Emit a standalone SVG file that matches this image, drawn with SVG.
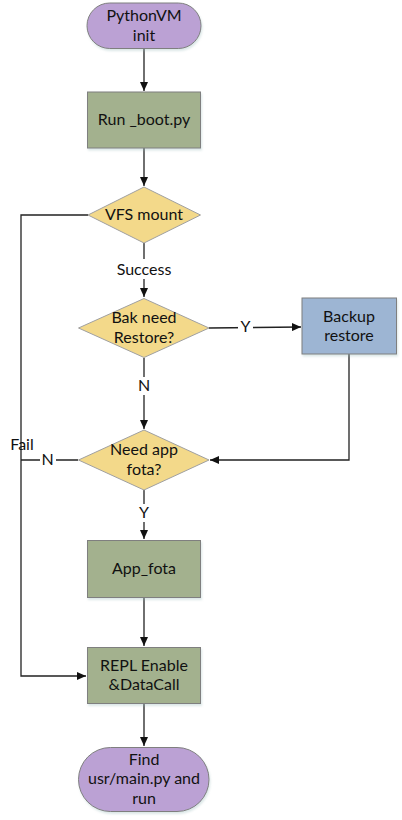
<svg xmlns="http://www.w3.org/2000/svg" width="402" height="820" viewBox="0 0 402 820">
<style>
text{font-family:Lato,"Noto Sans","Liberation Sans",sans-serif;font-size:16px;fill:#111;text-anchor:middle}
.term{fill:#BBA1D4;stroke:#7f7f7f;stroke-width:1}
.proc{fill:#A3B18E;stroke:#7f7f7f;stroke-width:1}
.dec{fill:#F3D98A;stroke:#a0a0a0;stroke-width:1}
.blue{fill:#9DB5D3;stroke:#7f7f7f;stroke-width:1}
.c{fill:none;stroke:#222;stroke-width:1.3}
.lbl{fill:#fff;stroke:none}
</style>
<defs>
<marker id="ah" markerWidth="10" markerHeight="8" refX="9" refY="4" orient="auto" markerUnits="userSpaceOnUse">
<path d="M0,0 L9,4 L0,8 Z" fill="#111"/>
</marker>
<filter id="sh" x="-10%" y="-10%" width="130%" height="140%">
<feDropShadow dx="1" dy="2" stdDeviation="1.2" flood-color="#9bb" flood-opacity="0.35"/>
</filter>
</defs>
<g id="connectors">
<path class="c" d="M144,49 V91" marker-end="url(#ah)"/>
<path class="c" d="M144,148 V186" marker-end="url(#ah)"/>
<path class="c" d="M144,243 V297" marker-end="url(#ah)"/>
<path class="c" d="M209,328 L301,327" marker-end="url(#ah)"/>
<path class="c" d="M144,358 V429" marker-end="url(#ah)"/>
<path class="c" d="M349,354 V460 H210" marker-end="url(#ah)"/>
<path class="c" d="M144,490 V539" marker-end="url(#ah)"/>
<path class="c" d="M144,597 V646" marker-end="url(#ah)"/>
<path class="c" d="M144,704 V746" marker-end="url(#ah)"/>
<path class="c" d="M88,215 H21 V676 H86" marker-end="url(#ah)"/>
<path class="c" d="M78,460 H21"/>
<rect class="lbl" x="112" y="259" width="64" height="20"/>
<text x="144" y="275">Success</text>
<rect class="lbl" x="238" y="318" width="15" height="18"/>
<text x="245.5" y="332">Y</text>
<rect class="lbl" x="137" y="377" width="15" height="18"/>
<text x="144" y="391">N</text>
<rect class="lbl" x="40" y="451" width="16" height="18"/>
<text x="47.5" y="465">N</text>
<rect class="lbl" x="137" y="504" width="15" height="18"/>
<text x="144" y="518">Y</text>
<text x="22" y="450">Fail</text>
</g>
<g id="n-init">
<rect class="term" filter="url(#sh)" x="87" y="3" width="114" height="45.5" rx="22.7"/>
<text x="144" y="21">PythonVM</text>
<text x="144" y="40.5">init</text>
</g>
<g id="n-boot">
<rect class="proc" filter="url(#sh)" x="87.5" y="92" width="113" height="56"/>
<text x="144" y="125">Run _boot.py</text>
</g>
<g id="n-vfs">
<polygon class="dec" points="144,187 200.5,215 144,243 88,215"/>
<text x="144" y="220">VFS mount</text>
</g>
<g id="n-bak">
<polygon class="dec" points="144,298.5 209,328 144,357.5 78.5,328"/>
<text x="144" y="323">Bak need</text>
<text x="144" y="343">Restore?</text>
</g>
<g id="n-backup">
<rect class="blue" filter="url(#sh)" x="302" y="298" width="94.5" height="56"/>
<text x="349" y="321.5">Backup</text>
<text x="349" y="341">restore</text>
</g>
<g id="n-fota">
<polygon class="dec" points="144,430 209,460 144,490 78.5,460"/>
<text x="144" y="455">Need app</text>
<text x="144" y="474.5">fota?</text>
</g>
<g id="n-appfota">
<rect class="proc" filter="url(#sh)" x="87.5" y="540.5" width="113" height="57"/>
<text x="144" y="574">App_fota</text>
</g>
<g id="n-repl">
<rect class="proc" filter="url(#sh)" x="87.5" y="647.5" width="113" height="56"/>
<text x="144" y="670.5">REPL Enable</text>
<text x="144" y="690">&amp;DataCall</text>
</g>
<g id="n-main">
<rect class="term" filter="url(#sh)" x="78.5" y="747.5" width="130.5" height="64" rx="32"/>
<text x="144" y="764.5">Find</text>
<text x="144" y="784">usr/main.py and</text>
<text x="144" y="803.5">run</text>
</g>
</svg>
